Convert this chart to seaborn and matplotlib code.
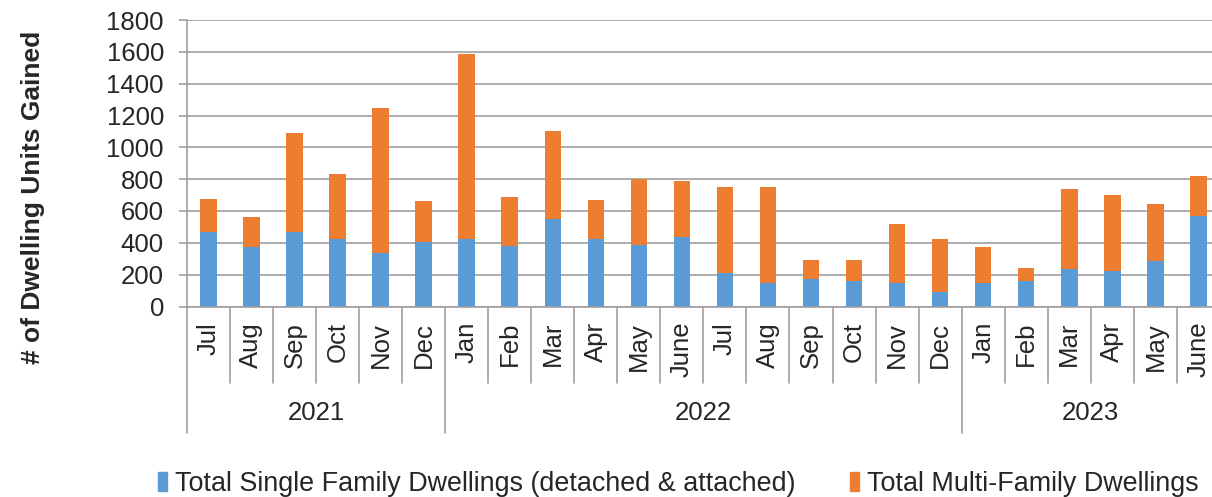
import matplotlib
matplotlib.use("Agg")
import matplotlib.pyplot as plt
import matplotlib.transforms as mtransforms
from matplotlib.patches import Patch
import seaborn as sns
import pandas as pd

# values
months = ['Jul', 'Aug', 'Sep', 'Oct', 'Nov', 'Dec',
          'Jan', 'Feb', 'Mar', 'Apr', 'May', 'June',
          'Jul', 'Aug', 'Sep', 'Oct', 'Nov', 'Dec',
          'Jan', 'Feb', 'Mar', 'Apr', 'May', 'June']
years = ['2021'] * 6 + ['2022'] * 12 + ['2023'] * 6
single_family = [469, 373, 469, 427, 339, 404,
                 421, 381, 549, 427, 387, 436,
                 210, 147, 172, 161, 147, 90,
                 147, 161, 235, 226, 283, 571]
multi_family = [207, 192, 619, 404, 910, 257,
                1167, 306, 556, 243, 417, 353,
                540, 603, 119, 130, 370, 331,
                226, 82, 506, 475, 362, 251]

BLUE = '#5B9BD5'
ORANGE = '#ED7D31'
GRID = '#A0A0A0'
FS = 18.5

df = pd.DataFrame({'key': [y + '-' + str(i) for i, y in enumerate(years)],
                   'single': single_family,
                   'multi': multi_family})
df['total'] = df['single'] + df['multi']

sns.set_style('white')
plt.rcParams['font.family'] = ['Liberation Sans', 'DejaVu Sans']

fig = plt.figure(figsize=(12.12, 4.97), dpi=100)
W, H = 1212, 497
# the chart area runs past the right edge of the picture, as in the original
ax = fig.add_axes([186.8 / W, 1 - 306.5 / H, 24 * 43.05 / W, 286.5 / H])

sns.barplot(data=df, x='key', y='total', color=ORANGE, saturation=1,
            width=0.38, linewidth=0, ax=ax)
sns.barplot(data=df, x='key', y='single', color=BLUE, saturation=1,
            width=0.38, linewidth=0, ax=ax)

ax.set_ylim(0, 1800)
ax.set_xlim(-0.5, 23.5)
ax.set_yticks(range(0, 1801, 200))
ax.yaxis.grid(True, color=GRID, linewidth=1.2)
ax.set_axisbelow(True)
for s in ['top', 'right']:
    ax.spines[s].set_visible(False)
for s in ['left', 'bottom']:
    ax.spines[s].set_color(GRID)
    ax.spines[s].set_linewidth(1.2)

ax.tick_params(axis='y', labelsize=FS, length=6, width=1.2, color=GRID,
               pad=10.5, left=True)
ax.set_xticks(range(len(months)))
ax.set_xticklabels(months, rotation=90, fontsize=FS, va='top', ha='center')
ax.tick_params(axis='x', length=0, pad=11)
ax.set_xlabel('')
ax.set_ylabel('')
fig.text(33 / W, 1 - 197 / H, '# of Dwelling Units Gained', fontsize=19,
         fontweight='bold', rotation=90, ha='center', va='center')

# two level category axis: month separators, year separators, year labels
trans = mtransforms.blended_transform_factory(ax.transData, ax.transAxes)
for i in range(1, len(months)):
    if years[i] != years[i - 1]:
        continue
    ax.plot([i - 0.5, i - 0.5], [0, -0.268], color=GRID, lw=1.2,
            transform=trans, clip_on=False)
bounds = [-0.5, 5.5, 17.5, 23.5]
for b in bounds:
    ax.plot([b, b], [0, -0.44], color=GRID, lw=1.2,
            transform=trans, clip_on=False)
for yr in ['2021', '2022', '2023']:
    idx = [i for i, y in enumerate(years) if y == yr]
    ax.text((idx[0] + idx[-1]) / 2, -0.373, yr, fontsize=FS,
            ha='center', va='center', transform=trans)

handles = [Patch(color=BLUE, label='Total Single Family Dwellings (detached & attached)'),
           Patch(color=ORANGE, label='Total Multi-Family Dwellings')]
fig.legend(handles=handles, loc='center', bbox_to_anchor=(678.5 / W, 1 - 484 / H),
           ncol=2, frameon=False, fontsize=19.4, handlelength=0.35,
           handleheight=0.75, handletextpad=0.3, columnspacing=2.0)

fig.savefig('out.png', dpi=100)
